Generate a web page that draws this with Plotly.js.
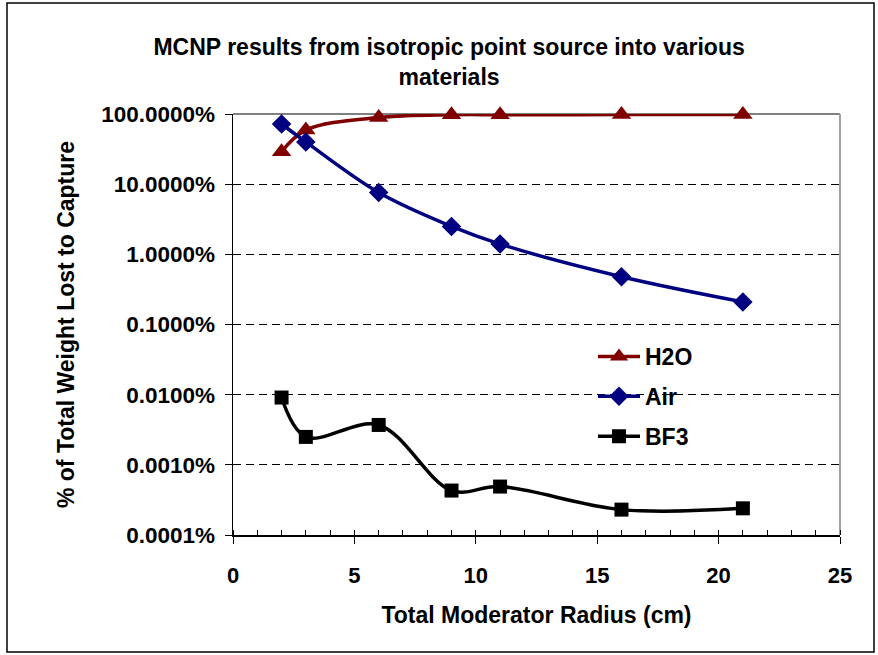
<!DOCTYPE html>
<html>
<head>
<meta charset="utf-8">
<script src="https://cdn.plot.ly/plotly-3.0.1.min.js"></script>
<style>html,body{margin:0;padding:0;background:#fff;}#chart{width:878px;height:655px;}</style>
</head>
<body>
<div id="chart"></div>
<script>
// Data (fractions; axis formats as percent)
const radius = [2, 3, 6, 9, 11, 16, 21];
const h2o = [0.29, 0.59, 0.89, 0.975, 0.978, 0.98, 0.98];
const air = [0.72, 0.40, 0.076, 0.025, 0.014, 0.0048, 0.0021];
const bf3 = [0.000091, 0.000025, 0.000037, 0.0000043, 0.0000049, 0.0000023, 0.0000024];
const seriesNames = ['H2O', 'Air', 'BF3'];
const yTickVals = [1e-6, 1e-5, 1e-4, 1e-3, 1e-2, 1e-1, 1];
const xTickVals = [0, 5, 10, 15, 20, 25];

const FONT = 'Liberation Sans, Arial, sans-serif';
const fnt = (s) => ({family: FONT, size: s, color: '#000', weight: 'bold'});

const mk = (y, name, color, symbol, size, grp) => ({
  x: radius, y: y, name: name, type: 'scatter', mode: 'lines+markers', cliponaxis: false,
  line: {color: color, width: 3.5, shape: 'spline', smoothing: 1},
  marker: {color: color, symbol: symbol, size: size},
  legendgroup: grp
});

const traces = [
  mk(h2o, seriesNames[0], '#800000', 'triangle-up', 17, 'a'),
  mk(air, seriesNames[1], '#000080', 'diamond', 15, 'b'),
  mk(bf3, seriesNames[2], '#000000', 'square', 14, 'c')
];

// pixel helpers for layout decorations (plot area 233..840 x 114..535)
const L = 233, R = 840, T = 114, B = 535;
const px = (p) => (p - L) / (R - L);
const py = (p) => (B - p) / (B - T);

const layout = {
  width: 878, height: 655,
  margin: {l: L, r: 878 - R, t: T, b: 655 - B},
  paper_bgcolor: '#fff', plot_bgcolor: '#fff',
  font: fnt(20),
  title: {text: 'MCNP results from isotropic point source into various<br>materials',
          font: fnt(23), x: 0.5115, xanchor: 'center', y: 1 - 55/655, yanchor: 'middle', yref: 'container'},
  xaxis: {
    range: [0, 25], tickvals: xTickVals, ticks: 'outside', ticklen: 7, tickcolor: '#000', tickwidth: 1,
    minor: {dtick: 1, ticks: 'inside', ticklen: 5, tickcolor: '#000', showgrid: false},
    showline: true, linecolor: '#000', linewidth: 1.5, showgrid: false, zeroline: false,
    tickfont: fnt(22), ticklabelstandoff: 13,
    title: {text: 'Total Moderator Radius (cm)', font: fnt(23), standoff: 20}
  },
  yaxis: {
    type: 'log', range: [-6, 0], tickvals: yTickVals, tickformat: '.4%',
    ticks: 'outside', ticklen: 7, tickcolor: '#000', tickwidth: 1,
    showline: true, linecolor: '#000', linewidth: 1.5,
    showgrid: true, gridcolor: '#000', gridwidth: 1, griddash: '8px,5px',
    zeroline: false, tickfont: fnt(22.5), ticklabelstandoff: 5,
    title: {text: '% of Total Weight Lost to Capture', font: fnt(23), standoff: 20}
  },
  showlegend: true,
  legend: {x: px(593), y: py(335), xanchor: 'left', yanchor: 'top', bgcolor: 'rgba(0,0,0,0)',
           font: fnt(23), tracegroupgap: 7, itemwidth: 42},
  shapes: [
    {type: 'rect', xref: 'paper', yref: 'paper', x0: px(563), x1: px(724), y0: py(456), y1: py(336),
     fillcolor: '#fff', line: {width: 0}, layer: 'between'},
    {type: 'line', xref: 'paper', yref: 'paper', x0: 0, x1: 1, y0: 1, y1: 1, line: {color: '#808080', width: 2}, layer: 'below'},
    {type: 'line', xref: 'paper', yref: 'paper', x0: 1, x1: 1, y0: 0, y1: 1, line: {color: '#a0a0a0', width: 2}, layer: 'below'},
    {type: 'rect', xref: 'paper', yref: 'paper', x0: px(7), x1: px(874), y0: py(652), y1: py(3),
     line: {color: '#000', width: 1.5}, fillcolor: 'rgba(0,0,0,0)', layer: 'below'}
  ]
};

Plotly.newPlot('chart', traces, layout, {displayModeBar: false, staticPlot: true});
</script>
</body>
</html>
